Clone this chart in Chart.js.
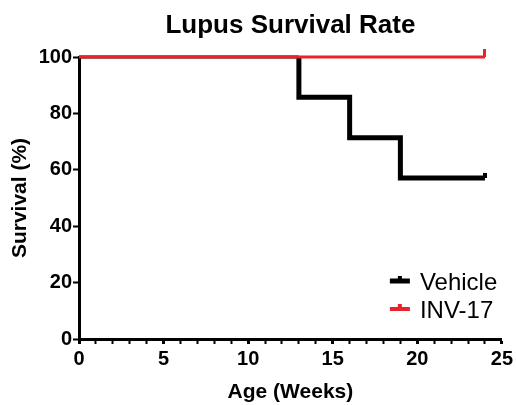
<!DOCTYPE html>
<html lang="en">
<head>
  <meta charset="UTF-8">
  <title>Lupus Survival Rate</title>
  <script src="https://cdn.jsdelivr.net/npm/chart.js"></script>
  <style>
    * { margin: 0; padding: 0; box-sizing: border-box; }
    body { background: #fff; }
    #wrap { width: 516px; height: 405px; }
  </style>
</head>
<body>
<div id="wrap"><canvas id="survivalChart" width="516" height="405"></canvas></div>

<script>
// Kaplan-Meier steps (weeks, % surviving), corners listed explicitly
const vehicleWeeks = [0, 13, 13, 16, 16, 19, 19, 24];
const vehicleSurvival = [100, 100, 85.7, 85.7, 71.4, 71.4, 57.1, 57.1];
const invWeeks = [0, 24];
const invSurvival = [100, 100];

const xTicks = [0, 5, 10, 15, 20, 25];
const yTicks = [0, 20, 40, 60, 80, 100];

const chartTitle = 'Lupus Survival Rate';
const xTitle = 'Age (Weeks)';
const yTitle = 'Survival (%)';
const seriesNames = ['Vehicle', 'INV-17'];
const seriesColors = ['#000000', '#e8232e'];

const FONT = "'Liberation Sans', Arial, sans-serif";

// censor mark: short vertical stroke above the point
function censorMark(color, w, h) {
  const c = document.createElement('canvas');
  c.width = w;
  c.height = h * 2;
  const g = c.getContext('2d');
  g.fillStyle = color;
  g.fillRect(0, 0, w, h);
  return c;
}

function pairs(xs, ys) {
  return xs.map((x, i) => ({ x, y: ys[i] }));
}

const legendAndTitle = {
  id: 'legendAndTitle',
  afterDraw(chart) {
    const { ctx, chartArea } = chart;
    ctx.save();
    // title
    ctx.fillStyle = '#000';
    ctx.font = `bold 26px ${FONT}`;
    ctx.textAlign = 'center';
    ctx.textBaseline = 'alphabetic';
    ctx.fillText(chartTitle, (chartArea.left + chartArea.right) / 2, 33);

    // legend
    ctx.font = `24px ${FONT}`;
    ctx.textAlign = 'left';
    const lx = chartArea.right - 112;
    seriesNames.forEach((name, i) => {
      const cy = chartArea.bottom - 58 + i * 28;
      ctx.fillStyle = seriesColors[i];
      const h = i === 0 ? 5 : 4;
      ctx.fillRect(lx, cy - h / 2, 20, h);
      ctx.fillRect(lx + 8, cy - 5, 4, 5);
      ctx.fillStyle = '#000';
      ctx.fillText(name, lx + 30, cy + 9);
    });
    ctx.restore();
  }
};

new Chart(document.getElementById('survivalChart'), {
  type: 'line',
  data: {
    datasets: [
      {
        label: seriesNames[0],
        data: pairs(vehicleWeeks, vehicleSurvival),
        borderColor: seriesColors[0],
        borderWidth: 5,
        borderJoinStyle: 'miter',
        fill: false,
        order: 2,
        segment: {
          // the 100% stretch lies under the INV-17 line
          borderWidth: c => (c.p0DataIndex === 0 ? 3 : 5)
        },
        pointStyle: censorMark(seriesColors[0], 4, 5),
        pointRadius: ctx => ctx.dataIndex === vehicleWeeks.length - 1 ? 4 : 0,
        pointHoverRadius: 0
      },
      {
        label: seriesNames[1],
        data: pairs(invWeeks, invSurvival),
        borderColor: seriesColors[1],
        borderWidth: 3,
        fill: false,
        order: 1,
        pointStyle: censorMark(seriesColors[1], 3, 8),
        pointRadius: ctx => ctx.dataIndex === invWeeks.length - 1 ? 4 : 0,
        pointHoverRadius: 0
      }
    ]
  },
  options: {
    responsive: false,
    animation: false,
    clip: false,
    layout: { padding: { top: 57, right: 11, left: 0, bottom: 0 } },
    plugins: {
      legend: { display: false },
      title: { display: false },
      tooltip: { enabled: false }
    },
    scales: {
      x: {
        type: 'linear',
        min: 0,
        max: 25,
        afterFit: s => { s.height = 66; },
        afterBuildTicks: s => { s.ticks = Array.from({ length: 26 }, (_, i) => ({ value: i })); },
        border: { display: true, color: '#000', width: 3 },
        grid: {
          drawOnChartArea: false,
          drawTicks: true,
          tickLength: 5,
          tickColor: '#000',
          tickWidth: c => (xTicks.includes(c.tick.value) ? 3 : 2)
        },
        ticks: {
          color: '#000',
          padding: 3,
          maxRotation: 0,
          autoSkip: false,
          font: { family: FONT, size: 20, weight: 'bold' },
          callback: v => (xTicks.includes(v) ? String(v) : '')
        },
        title: {
          display: true,
          text: xTitle,
          color: '#000',
          padding: { top: 2, bottom: 0 },
          font: { family: FONT, size: 21, weight: 'bold' }
        }
      },
      y: {
        min: 0,
        max: 100,
        afterFit: s => { s.width = 79; },
        afterBuildTicks: s => { s.ticks = yTicks.map(v => ({ value: v })); },
        border: { display: true, color: '#000', width: 3 },
        grid: {
          drawOnChartArea: false,
          drawTicks: true,
          tickLength: 6,
          tickColor: '#000',
          tickWidth: 2
        },
        ticks: {
          color: '#000',
          padding: 1,
          font: { family: FONT, size: 20, weight: 'bold' }
        },
        title: {
          display: true,
          text: yTitle,
          color: '#000',
          padding: { top: 8, bottom: 4 },
          font: { family: FONT, size: 21, weight: 'bold' }
        }
      }
    }
  },
  plugins: [legendAndTitle]
});
</script>
</body>
</html>
